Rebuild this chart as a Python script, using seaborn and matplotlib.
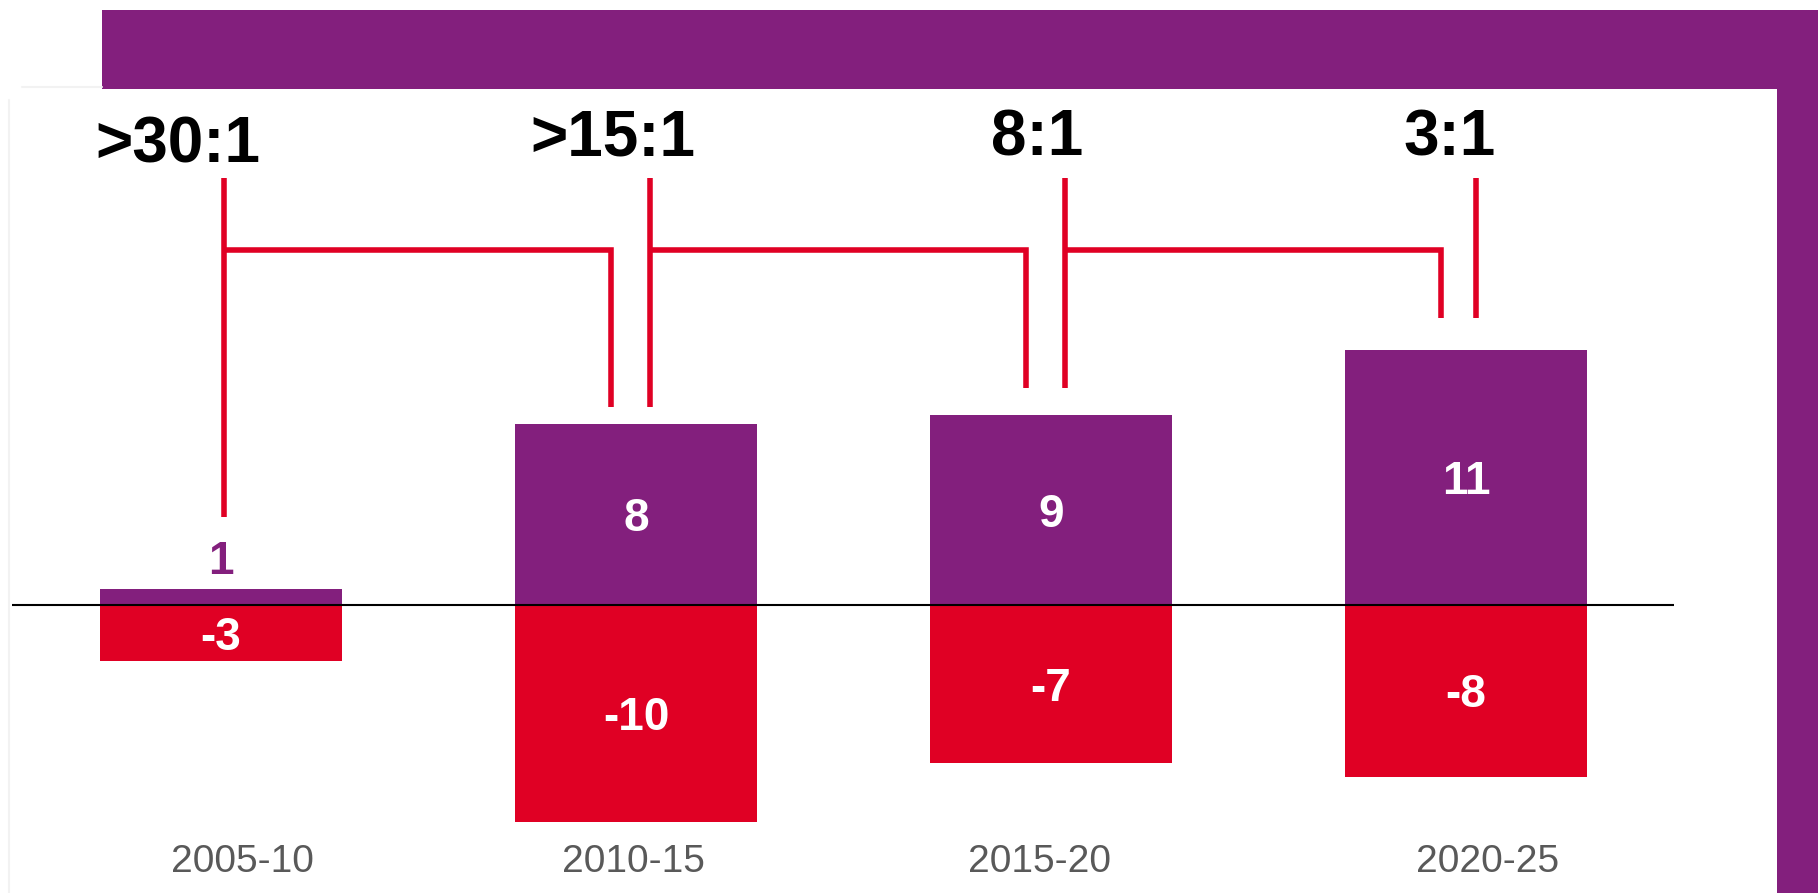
import matplotlib
matplotlib.use("Agg")
import matplotlib.pyplot as plt
from matplotlib.patches import Rectangle
from matplotlib.lines import Line2D
import pandas as pd
import seaborn as sns

# data
periods = ["2005-10", "2010-15", "2015-20", "2020-25"]
gains = [0.7, 8.0, 8.4, 11.3]
losses = [-2.5, -9.6, -7.0, -7.6]
gain_labels = ["1", "8", "9", "11"]
loss_labels = ["-3", "-10", "-7", "-8"]
ratios = [">30:1", ">15:1", "8:1", "3:1"]

PURPLE = "#831F7D"
RED = "#E00024"
GREY = "#595959"

W, H = 1818, 893

sns.set_style("white")
plt.rcParams["font.family"] = ["Liberation Sans", "DejaVu Sans"]

fig = plt.figure(figsize=(W / 100, H / 100), dpi=100)
fig.patch.set_facecolor("white")


def fx(px):
    return px / W


def fy(py):
    return 1 - py / H


# purple frame: banner on top, strip on the right
fig.add_artist(Rectangle((fx(102), fy(89)), fx(W - 102), 79 / H,
                         transform=fig.transFigure, color=PURPLE, lw=0))
fig.add_artist(Rectangle((fx(1777), 0), fx(41), fy(89),
                         transform=fig.transFigure, color=PURPLE, lw=0))
# faint panel shadow
fig.add_artist(Line2D([fx(9), fx(9)], [fy(100), 0], color="#F2F2F2", lw=1.5))
fig.add_artist(Line2D([fx(22), fx(102)], [fy(87), fy(87)], color="#F2F2F2", lw=1.5))

ax = fig.add_axes([fx(12), fy(830), fx(1674 - 12), 730 / H])
ax.patch.set_alpha(0)

df = pd.DataFrame({"period": periods, "gain": gains, "loss": losses})
sns.barplot(data=df, x="period", y="gain", color=PURPLE, saturation=1,
            width=0.583, linewidth=0, errorbar=None, ax=ax)
sns.barplot(data=df, x="period", y="loss", color=RED, saturation=1,
            width=0.583, linewidth=0, errorbar=None, ax=ax)

ax.set_xlim(-0.5036, 3.501)
ax.set_ylim(-9.956, 22.345)
ax.set_axis_off()
ax.axhline(0, color="black", lw=1.5, zorder=3)

# value labels
nudge = 0.2
for i in range(len(periods)):
    if gains[i] > 2:
        ax.text(i, gains[i] / 2 - nudge, gain_labels[i], ha="center", va="center",
                color="white", fontsize=33, fontweight="bold")
    else:
        ax.text(i, gains[i] + 0.67, gain_labels[i], ha="center", va="baseline",
                color=PURPLE, fontsize=33, fontweight="bold")
    ax.text(i, losses[i] / 2 - nudge, loss_labels[i], ha="center", va="center",
            color="white", fontsize=33, fontweight="bold")

# ratio brackets
stem_dx = [0.007, 0.033, 0.033, 0.023]
hook_dx = -0.06
stem_top = 18.9
bridge_y = 15.7
stem_bottom = [3.9, 8.75, 9.6, 12.7]
for i in range(len(periods)):
    ax.plot([i + stem_dx[i]] * 2, [stem_top, stem_bottom[i]], color=RED, lw=4,
            solid_capstyle="butt", clip_on=False)
for i in range(len(periods) - 1):
    ax.plot([i + stem_dx[i], i + 1 + hook_dx, i + 1 + hook_dx],
            [bridge_y, bridge_y, stem_bottom[i + 1]], color=RED, lw=4,
            solid_capstyle="butt", solid_joinstyle="miter", clip_on=False)

ratio_dx = [-0.105, -0.055, -0.034, -0.039]
ratio_y = [19.56, 19.91, 19.91, 19.91]
for i, r in enumerate(ratios):
    ax.text(i + ratio_dx[i], ratio_y[i], r, ha="center", va="baseline",
            color="black", fontsize=46, fontweight="bold")

# category labels
cat_dx = [0.052, -0.007, -0.028, 0.051]
for i, p in enumerate(periods):
    ax.text(i + cat_dx[i], -11.81, p, ha="center", va="baseline",
            color=GREY, fontsize=28, clip_on=False)

fig.savefig("out.png", dpi=100)
